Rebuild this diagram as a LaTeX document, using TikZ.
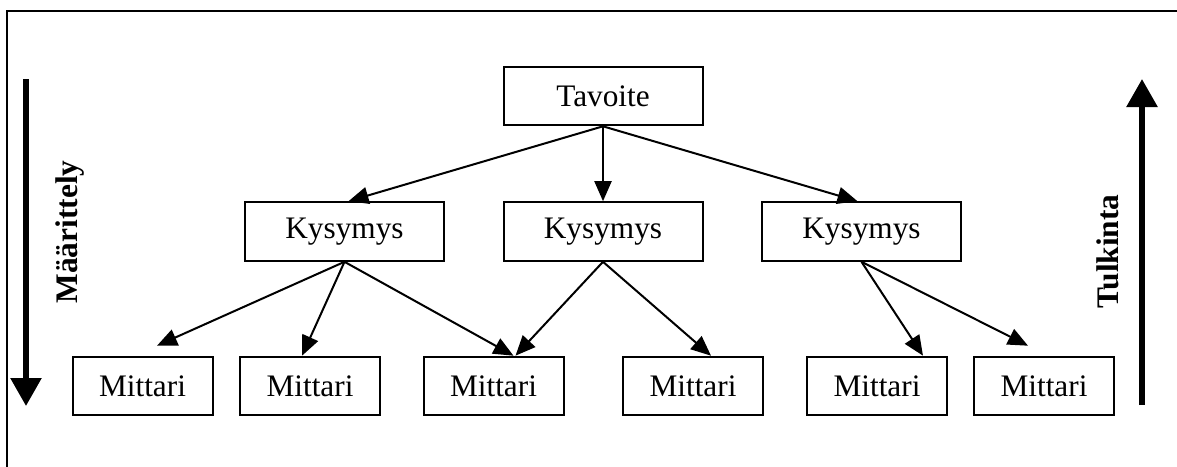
\documentclass[tikz,border=0pt]{standalone}
\usepackage{fontspec}
\setmainfont{Liberation Serif}
\usetikzlibrary{arrows.meta}
\begin{document}
\begin{tikzpicture}[x=0.5pt,y=-0.5pt,
  box/.style={draw=black,line width=1pt,inner sep=0pt,minimum height=29.3pt,
    font=\fontsize{15.65}{18}\selectfont},
  widebox/.style={box,minimum width=99.5pt},
  smallbox/.style={box,minimum width=70pt},
  link/.style={line width=1pt,-{Triangle[length=10pt,width=8.5pt]}},
  bigarrow/.style={line width=2.8pt,-{Triangle[length=14pt,width=15pt]}},
  sidelabel/.style={rotate=90,anchor=base,font=\fontsize{15.7}{18}\selectfont\bfseries}]
  \useasboundingbox (0,0) rectangle (1177,466);
  % open frame
  \draw[line width=1pt] (7,470) -- (7,11) -- (1180,11);

  % goal
  \node[widebox] (tav) at (603,96) {Tavoite};
  % questions
  \node[widebox] (k1) at (344.5,231.5) {Kysymys};
  \node[widebox] (k2) at (603,231.5) {Kysymys};
  \node[widebox] (k3) at (861.5,231.5) {Kysymys};
  % metrics
  \node[smallbox] (m1) at (142.5,386) {Mittari};
  \node[smallbox] (m2) at (310,386) {Mittari};
  \node[smallbox] (m3) at (493.5,386) {Mittari};
  \node[smallbox] (m4) at (693,386) {Mittari};
  \node[smallbox] (m5) at (877,386) {Mittari};
  \node[smallbox] (m6) at (1044,386) {Mittari};

  % goal -> questions
  \draw[link] (tav.south) -- ([xshift=2]k1.north);
  \draw[link] (tav.south) -- (k2.north);
  \draw[link] (tav.south) -- ([xshift=-2]k3.north);
  % questions -> metrics
  \draw[link] (k1.south) -- ([shift={(14.5,-10)}]m1.north);
  \draw[link] (k1.south) -- ([xshift=-4]m2.north);
  \draw[link] (k1.south) -- ([xshift=10]m3.north);
  \draw[link] (k2.south) -- ([xshift=11]m3.north);
  \draw[link] (k2.south) -- ([xshift=9]m4.north);
  \draw[link] (k3.south) -- ([xshift=23]m5.north);
  \draw[link] (k3.south) -- ([shift={(-16,-10)}]m6.north);

  % side arrows with labels
  \coordinate (defTop) at (26,79);
  \coordinate (defEnd) at (26,406);
  \draw[bigarrow] (defTop) -- (defEnd);
  \node[sidelabel] (def) at (77,232) {Määrittely};

  \coordinate (intBottom) at (1142,405);
  \coordinate (intEnd) at (1142,79);
  \draw[bigarrow] (intBottom) -- (intEnd);
  \node[sidelabel] (int) at (1118,251.5) {Tulkinta};
\end{tikzpicture}
\end{document}
